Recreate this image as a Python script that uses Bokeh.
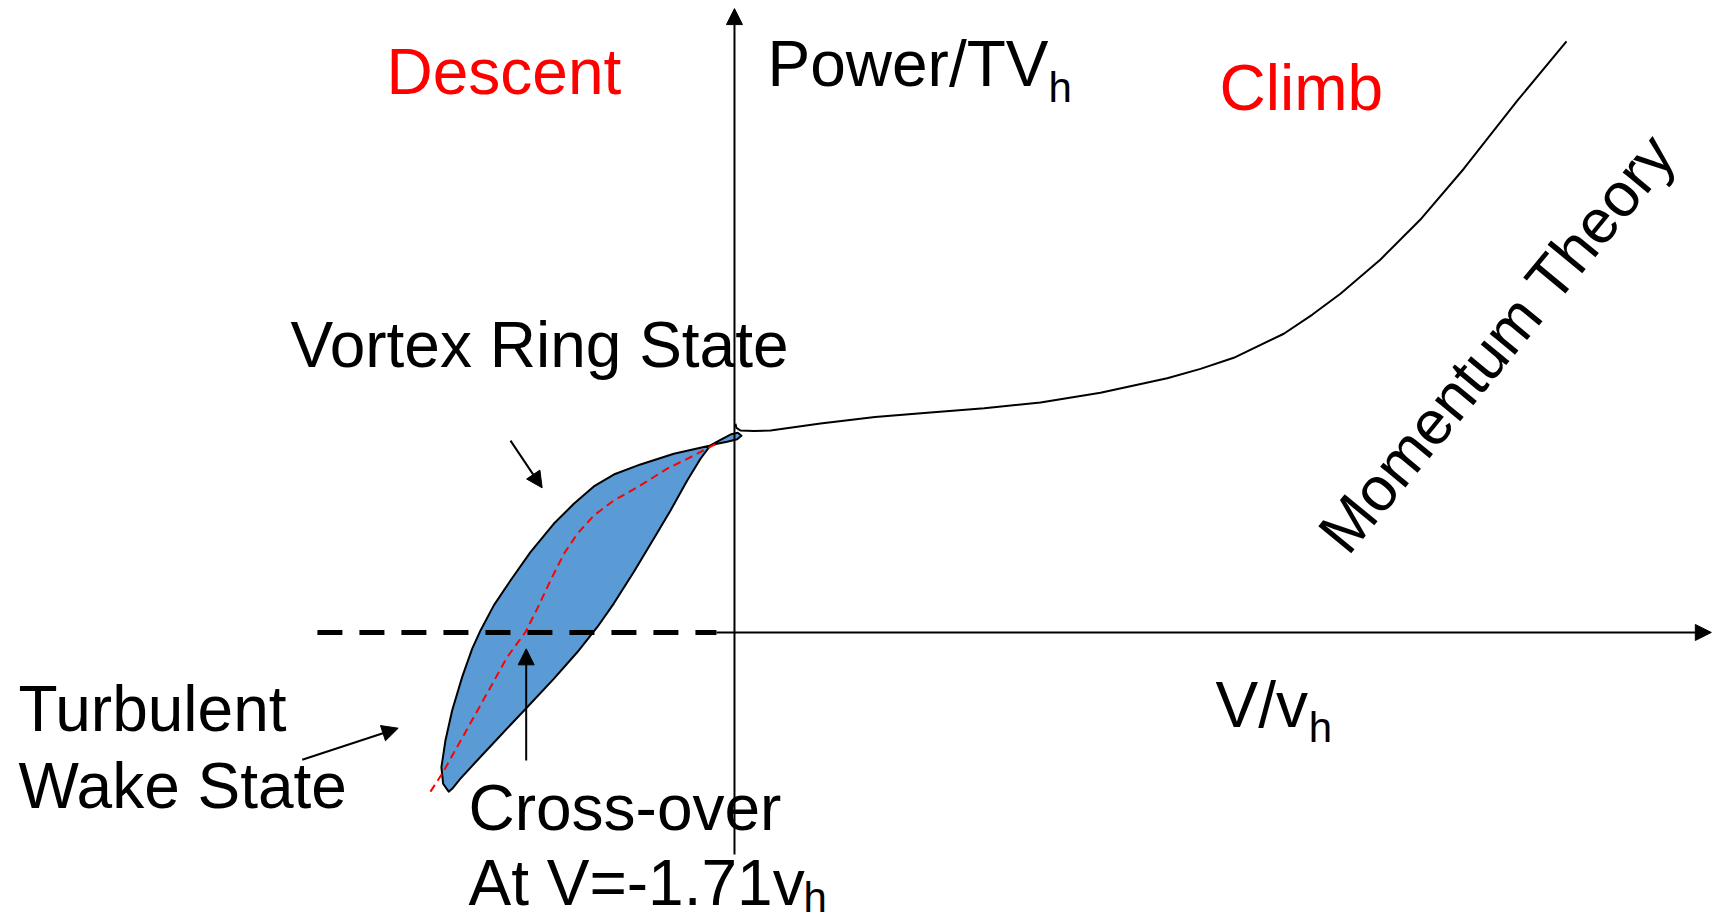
from bokeh.plotting import figure
from bokeh.models import Range1d, Arrow, NormalHead
from bokeh.core.properties import value
from bokeh.embed import file_html
from bokeh.resources import INLINE

# ---- data (V/v_h , Power/T v_h) ----
# Momentum theory curve (climb side)
momentum_v = [0.008, 0.016, 0.049, 0.158, 0.296, 0.706, 1.154, 1.609, 2.051, 2.512,
              3.005, 3.553, 3.826, 4.099, 4.510, 4.745, 4.975, 5.304, 5.640, 5.988,
              6.429, 6.831]
momentum_p = [1.033, 1.013, 1.000, 0.997, 1.000, 1.035, 1.067, 1.089, 1.110, 1.139,
              1.187, 1.259, 1.305, 1.360, 1.479, 1.574, 1.677, 1.847, 2.050, 2.296,
              2.634, 2.927]

# Envelope of measured data in descent (VRS / turbulent wake), closed outline
band_v = [-2.346, -2.392, -2.406, -2.373, -2.318, -2.236, -2.154, -2.085, -1.976, -1.839,
          -1.675, -1.484, -1.319, -1.155, -0.991, -0.772, -0.498, -0.197,
          -0.115, -0.033, 0.027, 0.057, 0.022, -0.060, -0.142, -0.197,
          -0.279, -0.388, -0.525, -0.663, -0.827, -0.991, -1.127, -1.291, -1.484,
          -1.702, -1.921, -2.113, -2.250, -2.318]
band_p = [-0.788, -0.749, -0.667, -0.535, -0.386, -0.221, -0.081, 0.010, 0.134, 0.257,
          0.398, 0.538, 0.637, 0.723, 0.782, 0.832, 0.885, 0.926,
          0.954, 0.980, 0.989, 0.974, 0.957, 0.944, 0.934, 0.926,
          0.860, 0.752, 0.604, 0.464, 0.299, 0.143, 0.026, -0.098, -0.230,
          -0.370, -0.510, -0.634, -0.724, -0.774]

# Mean curve through the data (red dashed)
mean_v = [-2.496, -2.400, -2.277, -2.140, -2.003, -1.866, -1.716, -1.620, -1.511, -1.401,
          -1.291, -1.155, -0.991, -0.772, -0.553, -0.334, -0.142]
mean_p = [-0.788, -0.699, -0.567, -0.419, -0.271, -0.122, 0.002, 0.117, 0.257, 0.389,
          0.488, 0.579, 0.653, 0.728, 0.811, 0.876, 0.937]

crossover_v = -1.71
ideal_autorotation_p = 0.0

FONT = value("Liberation Sans")
BIG = "64px"
SUB = "42px"

p = figure(width=1714, height=923,
           x_range=Range1d(-6.026, 8.046), y_range=Range1d(-1.441, 3.129),
           output_backend="svg", toolbar_location=None, min_border=0,
           x_axis_location=None, y_axis_location=None,
           outline_line_color=None, background_fill_color="white",
           border_fill_color="white")
p.grid.visible = False

# filled region
p.patch(band_v, band_p, fill_color="#5B9BD5", line_color="black", line_width=2,
        line_join="round")
# mean curve
p.line(mean_v, mean_p, line_color="#FF0000", line_width=2, line_dash="8 5",
       line_join="round")

# momentum theory curve
p.line(momentum_v, momentum_p, line_color="black", line_width=2, line_join="round")

# dashed zero-power line (descent side)
p.line([-3.424, -0.148], [ideal_autorotation_p, ideal_autorotation_p],
       line_color="black", line_width=5, line_dash="25 17")

# axes with arrows
head = dict(size=16, fill_color="black", line_color="black")
p.add_layout(Arrow(end=NormalHead(**head), x_start=0, y_start=-1.099, x_end=0, y_end=3.089,
                   line_color="black", line_width=2))
p.add_layout(Arrow(end=NormalHead(**head), x_start=-0.148, y_start=0, x_end=8.02, y_end=0,
                   line_color="black", line_width=2))

# annotation arrows
p.add_layout(Arrow(end=NormalHead(**head), x_start=-1.839, y_start=0.950, x_end=-1.579, y_end=0.716,
                   line_color="black", line_width=2))
p.add_layout(Arrow(end=NormalHead(**head), x_start=crossover_v, y_start=-0.634, x_end=crossover_v, y_end=-0.081,
                   line_color="black", line_width=2))
p.add_layout(Arrow(end=NormalHead(**head), x_start=-3.549, y_start=-0.630, x_end=-2.761, y_end=-0.474,
                   line_color="black", line_width=2))

def txt(x, y, s, color="black", size=BIG, angle=0.0):
    p.text(x=[x], y=[y], text=[s], text_font=FONT, text_font_size=size,
           text_color=color, text_baseline="alphabetic", text_align="left",
           angle=angle, angle_units="deg")

txt(-2.857, 2.773, "Descent", color="#FF0000")
txt(3.982, 2.694, "Climb", color="#FF0000")
txt(0.271, 2.813, "Power/TV")
txt(2.578, 2.698, "h", size=SUB)
txt(-3.645, 1.424, "Vortex Ring State")
txt(-5.878, -0.380, "Turbulent")
txt(-5.878, -0.761, "Wake State")
txt(-2.184, -0.870, "Cross-over")
txt(-2.184, -1.241, "At V=-1.71v")
txt(0.567, -1.312, "h", size=SUB)
txt(3.949, -0.357, "V/v")
txt(4.715, -0.472, "h", size=SUB)
txt(4.900, 0.440, "Momentum Theory", size="62px", angle=50.5)

open("out.html", "w").write(file_html(p, INLINE))
